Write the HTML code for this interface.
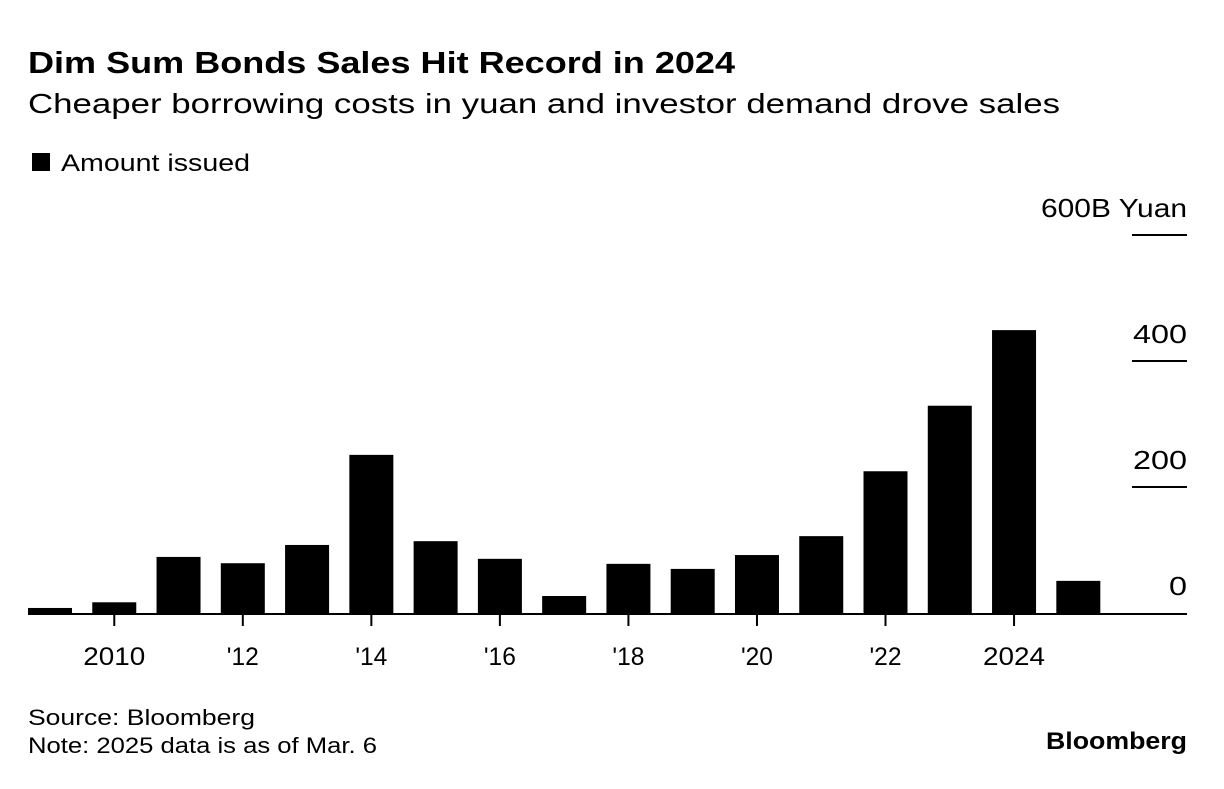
<!DOCTYPE html>
<html><head><meta charset="utf-8"><style>
body{margin:0;background:#fff;width:1224px;height:784px;overflow:hidden;font-family:"Liberation Sans",sans-serif;color:#000}
</style></head><body>
<svg width="1224" height="784">
<text x="28" y="73" font-size="31" font-weight="bold" textLength="707" lengthAdjust="spacingAndGlyphs">Dim Sum Bonds Sales Hit Record in 2024</text>
<text x="28" y="113" font-size="28" textLength="1032" lengthAdjust="spacingAndGlyphs">Cheaper borrowing costs in yuan and investor demand drove sales</text>
<rect x="32" y="153" width="18" height="18" fill="#000"/>
<text x="61" y="171" font-size="24" textLength="189" lengthAdjust="spacingAndGlyphs">Amount issued</text>
<g id="plot"></g>
<text x="28" y="725" font-size="22" textLength="227" lengthAdjust="spacingAndGlyphs">Source: Bloomberg</text>
<text x="28" y="753" font-size="22" textLength="349" lengthAdjust="spacingAndGlyphs">Note: 2025 data is as of Mar. 6</text>
<text x="1046" y="749" font-size="24" font-weight="bold" textLength="141" lengthAdjust="spacingAndGlyphs">Bloomberg</text>
</svg>
<script>
const years=[2009,2010,2011,2012,2013,2014,2015,2016,2017,2018,2019,2020,2021,2022,2023,2024,2025];
const values=[8,17,89,79,108,251,114,86,27,78,70,92,122,225,329,449,51];
const yTicks=[0,200,400,600];
const yTickLabels=["0","200","400","600B Yuan"];
const xTickYears=[2010,2012,2014,2016,2018,2020,2022,2024];
const xTickLabels=["2010","'12","'14","'16","'18","'20","'22","2024"];
const NS="http://www.w3.org/2000/svg";
const g=document.getElementById('plot');
const y0=613,k=126/200;
const ys=v=>y0-v*k;
const xs=yr=>50+(yr-2009)*64.27;
function mk(t,a){const e=document.createElementNS(NS,t);for(const n in a)e.setAttribute(n,a[n]);g.appendChild(e);return e;}
years.forEach((yr,i)=>{
  const r=mk('rect',{x:xs(yr)-22,y:ys(values[i]),width:44,height:values[i]*k,fill:'#000'});
  
  
});
const base=mk('line',{x1:28,x2:1187,y1:y0+1,y2:y0+1,stroke:'#000','stroke-width':2});


yTicks.forEach((v,i)=>{
  if(v>0){const l=mk('line',{x1:1132,x2:1187,y1:ys(v),y2:ys(v),stroke:'#000','stroke-width':2});
  
  }
  const t=mk('text',{x:1187,y:ys(v)-18,'font-size':26,'text-anchor':'end'});
  t.textContent=yTickLabels[i];
  const w=v===600?146:yTickLabels[i].length*18;
  t.setAttribute('textLength',w);
  t.setAttribute('lengthAdjust','spacingAndGlyphs');
  
  
});
xTickYears.forEach((yr,i)=>{
  const l=mk('line',{x1:xs(yr),x2:xs(yr),y1:y0,y2:y0+13,stroke:'#000','stroke-width':2});
  
  
  const t=mk('text',{x:xs(yr),y:665,'font-size':25,'text-anchor':'middle'});
  t.textContent=xTickLabels[i];
  t.setAttribute('textLength',xTickLabels[i].length===4?62:32);
  t.setAttribute('lengthAdjust','spacingAndGlyphs');
  
  
});
</script>
</body></html>
